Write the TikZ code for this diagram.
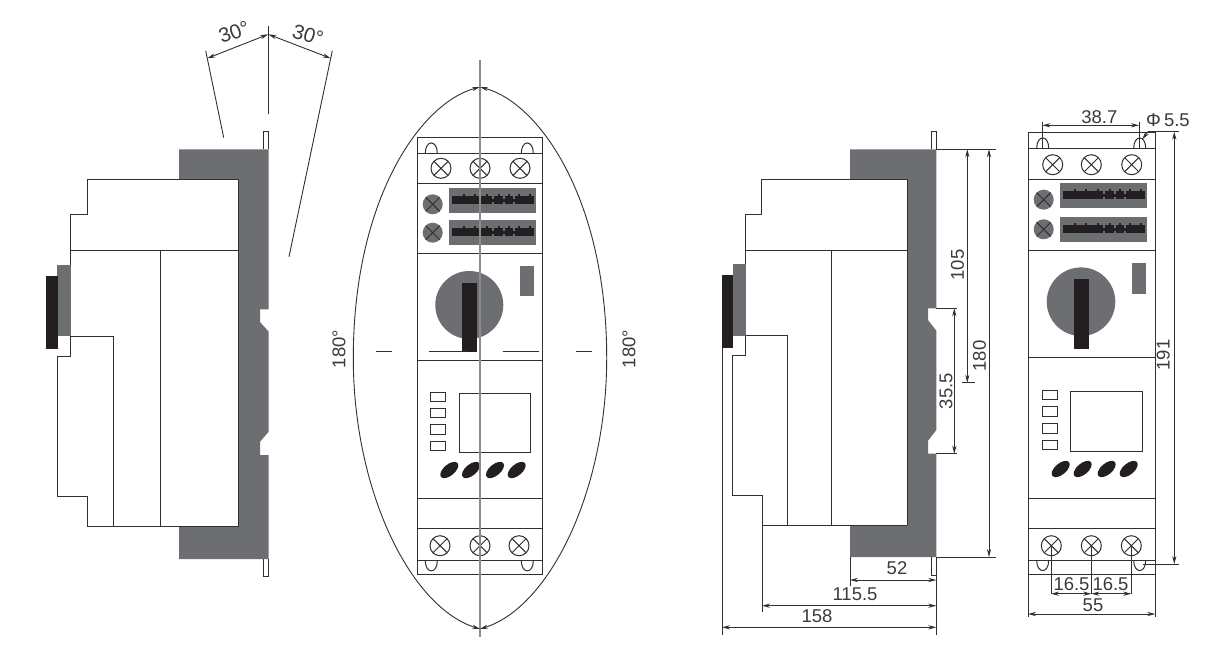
\documentclass[tikz,border=0pt]{standalone}
\usepackage{fontspec}
\setmainfont{Liberation Sans}
\usetikzlibrary{arrows.meta}
\definecolor{gfill}{HTML}{6D6E71}
\definecolor{kfill}{HTML}{231F20}
\definecolor{lnc}{HTML}{303030}
\definecolor{txt}{HTML}{3A3A3A}
\tikzset{
  ln/.style={draw=lnc,line width=1pt},
  thin ln/.style={draw=lnc,line width=0.8pt},
  greyfill/.style={fill=gfill,draw=none},
  blackfill/.style={fill=kfill,draw=none},
  dimline/.style={draw=lnc,line width=0.9pt,{Stealth[length=8pt,width=4.2pt]}-{Stealth[length=8pt,width=4.2pt]}},
  oneend/.style={draw=lnc,line width=0.9pt,-{Stealth[length=8pt,width=4.2pt]}},
  extline/.style={draw=lnc,line width=0.9pt},
  axis/.style={draw=gray!90,line width=1.2pt},
  lbl/.style={text=txt,font=\fontsize{18.5}{20}\selectfont,inner sep=0pt},
  lblv/.style={lbl,rotate=90},
  lblangle/.style={text=txt,font=\fontsize{20.5}{22}\selectfont,inner sep=0pt}
}
\newcommand{\myscrew}[2]{%
  \draw[ln] (#1,#2) circle [radius=10];
  \draw[ln] (#1-7,#2-7) -- (#1+7,#2+7) (#1-7,#2+7) -- (#1+7,#2-7);}
\newcommand{\mygscrew}[2]{%
  \fill[greyfill] (#1,#2) circle [radius=10];
  \draw[ln] (#1-7,#2-7) -- (#1+7,#2+7) (#1-7,#2+7) -- (#1+7,#2-7);}
\newcommand{\myarch}[3]{\draw[ln] (#1-6,#2) .. controls (#1-6,#3) and (#1+6,#3) .. (#1+6,#2);}
% terminal strip: grey plate with a black toothed band; #1 left, #2 top
\newcommand{\myplate}[2]{%
  \fill[greyfill] (#1,#2) rectangle (#1+87,#2+24.7);
  \fill[blackfill] (#1+3,#2+8) rectangle (#1+84.5,#2+16);
  \foreach \bx in {15,26,38,50,60,70,81}{\fill[blackfill] (#1+\bx-1.2,#2+5.5) rectangle (#1+\bx+1.2,#2+9);}
  \foreach \gx in {43,54,64}{\fill[greyfill] (#1+\gx,#2+8) rectangle (#1+\gx+2.4,#2+10.5);\fill[greyfill] (#1+\gx,#2+13.5) rectangle (#1+\gx+2.4,#2+16);}
}
\newcommand{\myknob}[2]{\fill[blackfill,shift={(#1,#2)},rotate=40] (0pt,0pt) ellipse [x radius=10.8pt,y radius=5.6pt];}
\begin{document}
\begin{tikzpicture}[x=1pt,y=-1pt]
\useasboundingbox (0,0) rectangle (1213,651);
% ---------- VIEW 1: side view with tilt angle ----------
\fill[greyfill] (179,149.3) -- (268.7,149.3) -- (268.7,309.3) -- (260,309.3) -- (260,322) -- (268.7,331.7)
  -- (268.7,431.7) -- (260,441.7) -- (260,455) -- (268.7,455) -- (268.7,559) -- (179,559) -- (179,526.7)
  -- (238,526.7) -- (238,179) -- (179,179) -- cycle;
\draw[thin ln] (263.3,149.3) -- (263.3,131.7) -- (268.7,131.7) -- (268.7,149.3);
\draw[thin ln] (263.3,559) -- (263.3,576.7) -- (268.7,576.7) -- (268.7,559);
\fill[greyfill] (57,265) rectangle (71,336);
\fill[blackfill] (46,276) rectangle (58,349);
\draw[ln] (238,526.7) -- (238,179) -- (87,179) -- (87,214.5) -- (70.3,214.5) -- (70.3,265);
\draw[ln] (70.3,250) -- (238,250);
\draw[ln] (160,250) -- (160,526.7);
\draw[ln] (71,336) -- (113.7,336) -- (113.7,526.7);
\draw[ln] (70.5,336) -- (70.5,356) -- (57,356) -- (57,496.7) -- (87.3,496.7) -- (87.3,526.7) -- (238,526.7);
\draw[extline] (268.3,26) -- (268.3,113.5);
\draw[extline] (205.7,50.7) -- (223.7,137.7);
\draw[extline] (332.3,50.7) -- (289,256.7);
\coordinate (aApex) at (268.3,34.3);
\coordinate (aL) at (207.3,58.3);
\coordinate (aR) at (330.7,58.3);
\draw[dimline] (aApex) -- (aL);
\draw[dimline] (aApex) -- (aR);
\node[lblangle,rotate=20] (t30a) at (234,32) {30°};
\node[lblangle,rotate=-17] (t30b) at (308,35) {30°};
% ---------- VIEW 2: front view with swing arcs ----------
\draw[ln] (417.3,137.3) rectangle (542.7,574.3);
\foreach \yy in {153.3,183.7,253.7,360,498.7,528.3,560.7}{\draw[ln] (417.3,\yy) -- (542.7,\yy);}
\myarch{431.3}{153.3}{139.5}
\myarch{527.3}{153.3}{139.5}
\myarch{431.3}{560.7}{574.2}
\myarch{527.3}{560.7}{574.2}
\myscrew{441}{168.3}\myscrew{480}{168.3}\myscrew{520}{168.3}
\myplate{449}{188}\myplate{449}{220}
\mygscrew{432.7}{204.3}\mygscrew{432.7}{232.7}
\fill[greyfill] (469.3,305) circle [radius=34];
\fill[blackfill] (462,283) rectangle (477,351.7);
\fill[greyfill] (520,266) rectangle (534,295.7);
\draw[thin ln] (376,351.7) -- (392,351.7) (429,351.7) -- (466,351.7) (502.7,351.7) -- (539.3,351.7) (576.3,351.7) -- (592.3,351.7);
\foreach \yy/\yb in {392/401.3,408.3/417.7,424.7/434.3,441/450.7}{\draw[ln] (430.7,\yy) rectangle (445.7,\yb);}
\draw[ln] (459.3,393) rectangle (530.3,452);
\myknob{449.3}{470}\myknob{471}{470}\myknob{495}{470}\myknob{516.7}{470}
\myscrew{440}{545.7}\myscrew{480}{545.7}\myscrew{519}{545.7}
\draw[axis] (480,60) -- (480,636.7);
\coordinate (top) at (480,87);
\coordinate (bot) at (480,629);
\coordinate (midL) at (353.3,358);
\coordinate (midR) at (606.7,358);
\draw[extline,{Stealth[length=8pt,width=4.2pt]}-{Stealth[length=8pt,width=4.2pt]}] (top) .. controls (420,103) and (353.3,200) .. (midL) .. controls (353.3,490) and (410,607) .. (bot);
\draw[extline,{Stealth[length=8pt,width=4.2pt]}-{Stealth[length=8pt,width=4.2pt]}] (top) .. controls (540,103) and (606.7,200) .. (midR) .. controls (606.7,490) and (550,607) .. (bot);
\node[lblv] (t180a) at (339,349) {180°};
\node[lblv] (t180b) at (629,349) {180°};
% ---------- VIEW 3: dimensioned side view ----------
\fill[greyfill] (850,149.3) -- (936.3,149.3) -- (936.3,308.3) -- (928,308.3) -- (928,320) -- (936.3,330.7)
  -- (936.3,430) -- (928,440.7) -- (928,453.7) -- (936.3,453.7) -- (936.3,557) -- (850,557) -- (850,525)
  -- (907,525) -- (907,179) -- (850,179) -- cycle;
\draw[thin ln] (931.7,149.3) -- (931.7,131.7) -- (936.3,131.7) -- (936.3,149.3);
\draw[thin ln] (931.7,557) -- (931.7,575) -- (936.3,575) -- (936.3,557);
\fill[greyfill] (733,264) rectangle (746,335.7);
\fill[blackfill] (722,275) rectangle (733,347.7);
\draw[ln] (907,525) -- (907,179) -- (761.3,179) -- (761.3,214) -- (745.3,214) -- (745.3,264);
\draw[ln] (745.3,250) -- (907,250);
\draw[ln] (831.7,250) -- (831.7,525);
\draw[ln] (746,335.7) -- (787.3,335.7) -- (787.3,525);
\draw[ln] (745.3,335.7) -- (745.3,355) -- (732.7,355) -- (732.7,495.3) -- (762,495.3) -- (762,525) -- (907,525);
\draw[extline] (762,525) -- (762,611.7);
\draw[extline] (722,347.7) -- (722,635);
\draw[extline] (936.3,557) -- (936.3,635);
\draw[extline] (850,557) -- (850,585.7);
\draw[dimline] (850,580) -- (936.3,580);
\draw[dimline] (762,605.7) -- (936.3,605.7);
\draw[dimline] (722,627.3) -- (936.3,627.3);
\node[lbl] (t52) at (897,568.5) {52};
\node[lbl] (t115) at (855,594.5) {115.5};
\node[lbl] (t158) at (817,616.5) {158};
\draw[extline] (936.3,149.3) -- (995.7,149.3);
\draw[extline] (936.3,557) -- (995.7,557);
\draw[extline] (936.3,308.3) -- (956.7,308.3);
\draw[extline] (936.3,453.7) -- (956.7,453.7);
\draw[extline] (961.7,382.7) -- (975,382.7);
\draw[dimline] (967.3,149.3) -- (967.3,382.7);
\draw[dimline] (989,149.3) -- (989,557);
\draw[dimline] (954.3,308.3) -- (954.3,453.7);
\node[lblv] (t105) at (957.5,265) {105};
\node[lblv] (t180c) at (979.5,356) {180};
\node[lblv] (t355) at (946,391) {35.5};
% ---------- VIEW 4: dimensioned front view ----------
\draw[ln] (1028,132) rectangle (1155.3,574.3);
\foreach \yy in {148.3,179.3,250,357.7,498,528,560.3}{\draw[ln] (1028,\yy) -- (1155.3,\yy);}
\myarch{1042.7}{148.3}{134.5}
\myarch{1139.7}{148.3}{134.5}
\myarch{1042.7}{560.3}{574}
\myarch{1139.7}{560.3}{574}
\myscrew{1052.7}{164.7}\myscrew{1091.3}{164.7}\myscrew{1131.7}{164.7}
\myplate{1060}{183}\myplate{1060}{217}
\mygscrew{1043.7}{199.7}\mygscrew{1043.7}{229.3}
\fill[greyfill] (1081,301.7) circle [radius=34.3];
\fill[blackfill] (1074,279) rectangle (1089,349);
\fill[greyfill] (1132,263) rectangle (1146,293.7);
\foreach \yy/\yb in {390/399.7,406.7/416.3,423.3/433,440/449.7}{\draw[ln] (1042,\yy) rectangle (1057,\yb);}
\draw[ln] (1070.7,391.3) rectangle (1142.3,451);
\myknob{1060.7}{469}\myknob{1082.7}{469}\myknob{1106.7}{469}\myknob{1128.7}{469}
\myscrew{1051.3}{545.7}\myscrew{1091.3}{545.7}\myscrew{1131.3}{545.7}
% dimensions
\draw[extline] (1042.3,122) -- (1042.3,148);
\draw[extline] (1139,122) -- (1139,148);
\draw[dimline] (1042.3,125.3) -- (1139,125.3);
\node[lbl] (t387) at (1099.3,117.5) {38.7};
\node[lbl] (tphi) at (1168,120) {Φ\,5.5};
\coordinate (lead) at (1148,131.7);
\draw[extline] (1179,131.7) -- (lead);
\draw[oneend] (lead) -- (1142.3,139.3);
\draw[dimline] (1174.3,131.7) -- (1174.3,564);
\draw[extline] (1143,564) -- (1179,564);
\node[lblv] (t191) at (1163.3,355) {191};
\draw[extline] (1051,545.7) -- (1051,594.3);
\draw[extline] (1091.3,545.7) -- (1091.3,594.3);
\draw[extline] (1131.3,545.7) -- (1131.3,594.3);
\draw[dimline] (1051,593.7) -- (1091.3,593.7);
\draw[dimline] (1091.3,593.7) -- (1131.3,593.7);
\node[lbl] (t165a) at (1071.5,583.7) {16.5};
\node[lbl] (t165b) at (1110.5,583.7) {16.5};
\draw[extline] (1028,574.3) -- (1028,616.7);
\draw[extline] (1155.3,574.3) -- (1155.3,616.7);
\draw[dimline] (1028,614) -- (1155.3,614);
\node[lbl] (t55) at (1093,605.7) {55};
\end{tikzpicture}
\end{document}
